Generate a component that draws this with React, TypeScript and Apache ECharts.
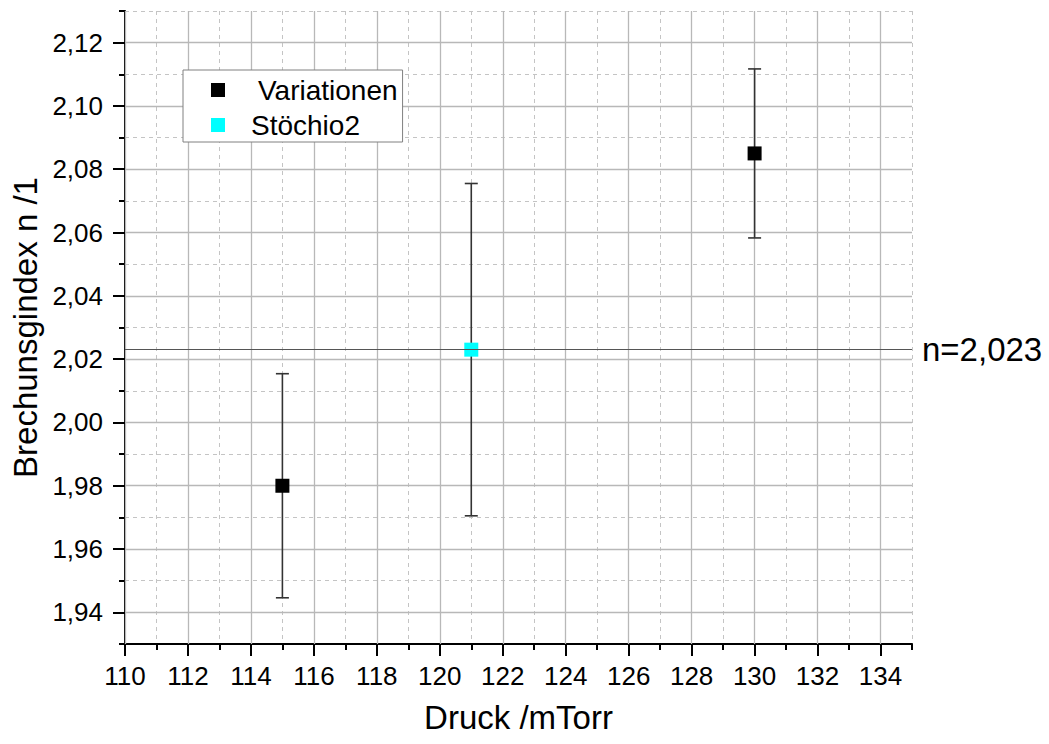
import React, { useEffect, useRef } from "react";
import * as echarts from "echarts";

// Measured refractive index vs. chamber pressure
const variationenPressure = [115, 130];
const variationenIndex = [1.98, 2.085];
const variationenError = [0.0354, 0.0267];

const stoechioPressure = [121];
const stoechioIndex = [2.023];
const stoechioError = [0.0525];

const referenceIndex = 2.023;
const referenceLabel = "n=2,023";

const xTickValues = [110, 112, 114, 116, 118, 120, 122, 124, 126, 128, 130, 132, 134];
const yTickValues = [1.94, 1.96, 1.98, 2.0, 2.02, 2.04, 2.06, 2.08, 2.1, 2.12];

const FONT = "'Liberation Sans', Arial, sans-serif";

const fmtY = (v: number) => v.toFixed(2).replace(".", ",");

function errorRows(xs: number[], ys: number[], es: number[]) {
  return xs.map((x, i) => [x, ys[i] - es[i], ys[i] + es[i]]);
}

export default function App() {
  const ref = useRef<HTMLDivElement>(null);

  useEffect(() => {
    if (!ref.current) return;
    const chart = echarts.init(ref.current, undefined, { renderer: "svg" });

    const errorData = [
      ...errorRows(variationenPressure, variationenIndex, variationenError),
      ...errorRows(stoechioPressure, stoechioIndex, stoechioError),
    ];

    const minorAxisBase = {
      type: "value" as const,
      axisLine: { show: true, onZero: false, lineStyle: { color: "#000", width: 2 } },
      axisTick: { show: true, length: 6, lineStyle: { color: "#000", width: 2 } },
      axisLabel: { show: false },
      splitLine: { show: true, lineStyle: { color: "#c4c4c4", width: 1, type: [4, 4] } },
      z: 0,
    };

    const majorAxisBase = {
      type: "value" as const,
      axisLine: { show: false, onZero: false },
      splitLine: { show: true, lineStyle: { color: "#b8b8b8", width: 1.3, type: "solid" } },
      z: 1,
    };

    chart.setOption({
      animation: false,
      backgroundColor: "#ffffff",
      textStyle: { fontFamily: FONT },
      grid: { left: 125, top: 11, right: 137, bottom: 100 },
      legend: {
        orient: "vertical",
        left: 183,
        top: 70,
        padding: [6, 5, 3, 28],
        itemGap: 7,
        itemWidth: 14,
        itemHeight: 14,
        icon: "rect",
        borderColor: "#808080",
        borderWidth: 1,
        backgroundColor: "#ffffff",
        data: ["Variationen", "Stöchio2"],
        formatter: (name: string) => (name === "Variationen" ? `{a|${name}}` : `{b|${name}}`),
        textStyle: {
          fontFamily: FONT,
          fontSize: 28,
          color: "#000",
          lineHeight: 28,
          rich: {
            a: { fontFamily: FONT, fontSize: 28, color: "#000", padding: [0, 0, 0, 28] },
            b: { fontFamily: FONT, fontSize: 28, color: "#000", padding: [0, 0, 0, 21] },
          },
        },
      },
      xAxis: [
        {
          ...minorAxisBase,
          position: "bottom",
          min: 110,
          max: 135,
          interval: 1,
          name: "Druck /mTorr",
          nameLocation: "middle",
          nameGap: 57,
          nameTextStyle: { fontFamily: FONT, fontSize: 33, color: "#000" },
        },
        {
          ...majorAxisBase,
          position: "bottom",
          min: 110,
          max: 135,
          interval: 1,
          axisTick: {
            show: true,
            length: 12,
            customValues: xTickValues,
            lineStyle: { color: "#000", width: 2 },
          },
          axisLabel: {
            show: true,
            customValues: xTickValues,
            margin: 19,
            fontFamily: FONT,
            fontSize: 26,
            color: "#000",
          },
        },
      ],
      yAxis: [
        {
          ...minorAxisBase,
          position: "left",
          min: 1.93,
          max: 2.13,
          interval: 0.01,
          name: "Brechunsgindex n /1",
          nameLocation: "middle",
          nameGap: 83,
          nameTextStyle: { fontFamily: FONT, fontSize: 33, color: "#000" },
        },
        {
          ...majorAxisBase,
          position: "left",
          min: 1.93,
          max: 2.13,
          interval: 0.01,
          axisTick: {
            show: true,
            length: 12,
            customValues: yTickValues,
            lineStyle: { color: "#000", width: 2 },
          },
          axisLabel: {
            show: true,
            customValues: yTickValues,
            margin: 22,
            fontFamily: FONT,
            fontSize: 26,
            color: "#000",
            formatter: (v: number) => fmtY(v),
          },
        },
      ],
      series: [
        {
          name: "errorbars",
          type: "custom",
          xAxisIndex: 0,
          yAxisIndex: 0,
          z: 3,
          silent: true,
          data: errorData,
          renderItem: (params: any, api: any) => {
            const x = api.value(0);
            const lo = api.coord([x, api.value(1)]);
            const hi = api.coord([x, api.value(2)]);
            const half = 6.5;
            const style = { stroke: "#333333", lineWidth: 1.6 };
            return {
              type: "group",
              children: [
                { type: "line", shape: { x1: lo[0], y1: lo[1], x2: hi[0], y2: hi[1] }, style },
                { type: "line", shape: { x1: lo[0] - half, y1: lo[1], x2: lo[0] + half, y2: lo[1] }, style },
                { type: "line", shape: { x1: hi[0] - half, y1: hi[1], x2: hi[0] + half, y2: hi[1] }, style },
              ],
            };
          },
        },
        {
          name: "Variationen",
          type: "scatter",
          xAxisIndex: 0,
          yAxisIndex: 0,
          z: 4,
          symbol: "rect",
          symbolSize: 14,
          itemStyle: { color: "#000000", opacity: 1 },
          data: variationenPressure.map((x, i) => [x, variationenIndex[i]]),
        },
        {
          name: "Stöchio2",
          type: "scatter",
          xAxisIndex: 0,
          yAxisIndex: 0,
          z: 4,
          symbol: "rect",
          symbolSize: 14,
          itemStyle: { color: "#00ffff", opacity: 1 },
          data: stoechioPressure.map((x, i) => [x, stoechioIndex[i]]),
          markLine: {
            silent: true,
            precision: 3,
            symbol: ["none", "none"],
            lineStyle: { color: "#555555", width: 1.2, type: "solid" },
            label: {
              show: true,
              position: "end",
              distance: 10,
              formatter: referenceLabel,
              fontFamily: FONT,
              fontSize: 33,
              color: "#000",
            },
            data: [{ yAxis: referenceIndex }],
          },
        },
      ],
    });

    return () => chart.dispose();
  }, []);

  return (
    <div
      ref={ref}
      style={{ position: "fixed", left: 0, top: 0, width: 1049, height: 744, background: "#fff" }}
    />
  );
}
